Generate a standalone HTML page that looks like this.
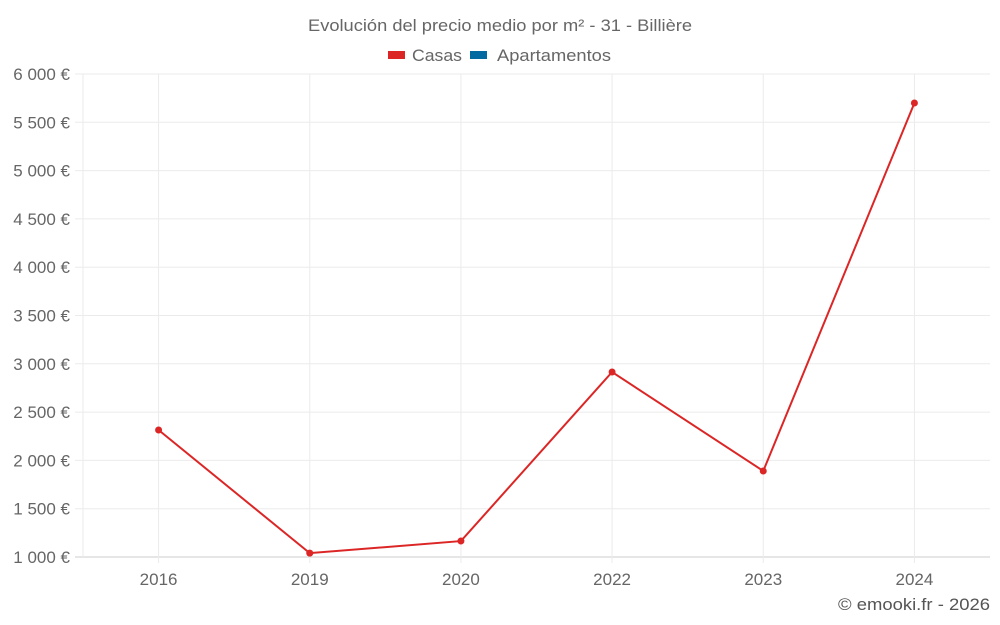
<!DOCTYPE html>
<html><head><meta charset="utf-8"><style>
html,body{margin:0;padding:0;background:#fff;}
svg{display:block;font-family:"Liberation Sans",sans-serif;}
</style></head><body>
<svg id="chart" width="1000" height="625">
<text x="308" y="31" textLength="384" lengthAdjust="spacingAndGlyphs" font-size="17" fill="#666">Evolución del precio medio por m² - 31 - Billière</text>
<g>
<g><rect x="388" y="51" width="17" height="8" fill="#dc2626"/><text x="412" y="61" font-size="17" textLength="50" lengthAdjust="spacingAndGlyphs" fill="#666">Casas</text></g>
<g><rect x="470" y="51" width="17" height="8" fill="#0369a1"/><text x="497" y="61" font-size="17" textLength="114" lengthAdjust="spacingAndGlyphs" fill="#666">Apartamentos</text></g>
</g>
<g id="grid"></g><g id="axes"></g><g id="series"></g>
<text x="838" y="610" textLength="152" lengthAdjust="spacingAndGlyphs" font-size="17" fill="#555">© emooki.fr - 2026</text>
</svg>
<script>
const categories=["2016","2019","2020","2022","2023","2024"];
const casasValues=[2315,1040,1165,2915,1890,5700];
const yTicks=[1000,1500,2000,2500,3000,3500,4000,4500,5000,5500,6000];
const yTickLabels=["1 000 €","1 500 €","2 000 €","2 500 €","3 000 €","3 500 €","4 000 €","4 500 €","5 000 €","5 500 €","6 000 €"];
const L=83,R=990,T=74,B=557,ymin=1000,ymax=6000;
const ns="http://www.w3.org/2000/svg";
function y(v){return B-(v-ymin)/(ymax-ymin)*(B-T);}
function x(i){const w=(R-L)/categories.length;return L+w*(i+0.5);}
function mk(t,a,p){const e=document.createElementNS(ns,t);for(const k in a)e.setAttribute(k,a[k]);p.appendChild(e);return e;}
const grid=document.getElementById('grid'),axes=document.getElementById('axes'),ser=document.getElementById('series');
yTicks.forEach((v,i)=>{
const g=mk('line',{x1:75,x2:R,y1:y(v),y2:y(v),stroke:i==0?'#ccc':'#ebebeb','stroke-width':1},grid);


const t=mk('text',{x:70,y:y(v)+6,'text-anchor':'end','font-size':17,fill:'#666'},axes);
t.textContent=yTickLabels[i];


});
categories.forEach((c,i)=>{
const g=mk('line',{x1:x(i),x2:x(i),y1:T,y2:B+6,stroke:'#ebebeb','stroke-width':1},grid);


const t=mk('text',{x:x(i),y:585,'text-anchor':'middle','font-size':17,fill:'#666'},axes);
t.textContent=c;


});
const ax=mk('line',{x1:L,x2:L,y1:T,y2:B,stroke:'#ebebeb'},axes);


const pl=mk('polyline',{points:casasValues.map((v,i)=>x(i)+','+y(v)).join(' '),fill:'none',stroke:'#dc2626','stroke-width':2},ser);


casasValues.forEach((v,i)=>{
const c=mk('circle',{cx:x(i),cy:y(v),r:3.5,fill:'#dc2626'},ser);


});
</script>
</body></html>
